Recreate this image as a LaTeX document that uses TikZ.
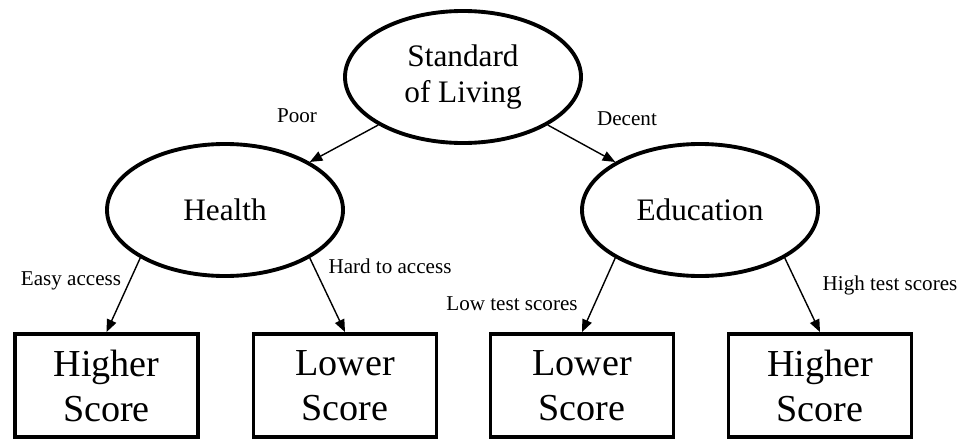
\documentclass[tikz,border=0pt]{standalone}
\usepackage{fontspec}
\setmainfont{Liberation Serif}
\usetikzlibrary{shapes.geometric,arrows.meta}

\begin{document}
\begin{tikzpicture}[
	oval/.style={draw,ellipse,line width=2.2pt,minimum width=4.72cm,minimum height=2.64cm,inner sep=0,align=center,font=\fontsize{17.8}{21}\selectfont},
	scorebox/.style={draw,rectangle,line width=2.2pt,minimum width=3.66cm,minimum height=2.06cm,inner sep=0,align=center,font=\fontsize{21.7}{25.6}\selectfont},
	arrow/.style={-{Triangle[length=0.25cm,width=0.2cm]},line width=0.8pt},
	edgelabel/.style={font=\fontsize{12}{14}\selectfont,inner sep=0}
]

\useasboundingbox (0,0) rectangle (19.44,8.94);

% Ovals:
\node[oval] (Living) at (9.26,7.4) {Standard\\of Living};
\node[oval] (Health) at (4.5,4.74) {Health};
\node[oval] (Education) at (14,4.74) {Education};

% Score boxes:
\foreach \x/\txt [count=\i] in {2.13/Higher,6.9/Lower,11.64/Lower,16.4/Higher} {
	\node[scorebox] (S\i) at (\x,1.23) {\txt\\Score};
}

\draw[arrow] (Living.south west) -- (Health.north east);
\draw[arrow] (Living.south east) -- (Education.north west);
\draw[arrow] (Health.south west) -- (S1.north);
\draw[arrow] (Health.south east) -- (S2.north);
\draw[arrow] (Education.south west) -- (S3.north);
\draw[arrow] (Education.south east) -- (S4.north);

% Labels:
\node[edgelabel] (Lpoor) at (5.94,6.62) {Poor};
\node[edgelabel] (Ldecent) at (12.54,6.56) {Decent};
\node[edgelabel] (Leasy) at (1.42,3.32) {Easy access};
\node[edgelabel] (Lhard) at (7.8,3.62) {Hard to access};
\node[edgelabel] (Llow) at (10.24,2.86) {Low test scores};
\node[edgelabel] (Lhigh) at (17.8,3.24) {High test scores};

\end{tikzpicture}
\end{document}
